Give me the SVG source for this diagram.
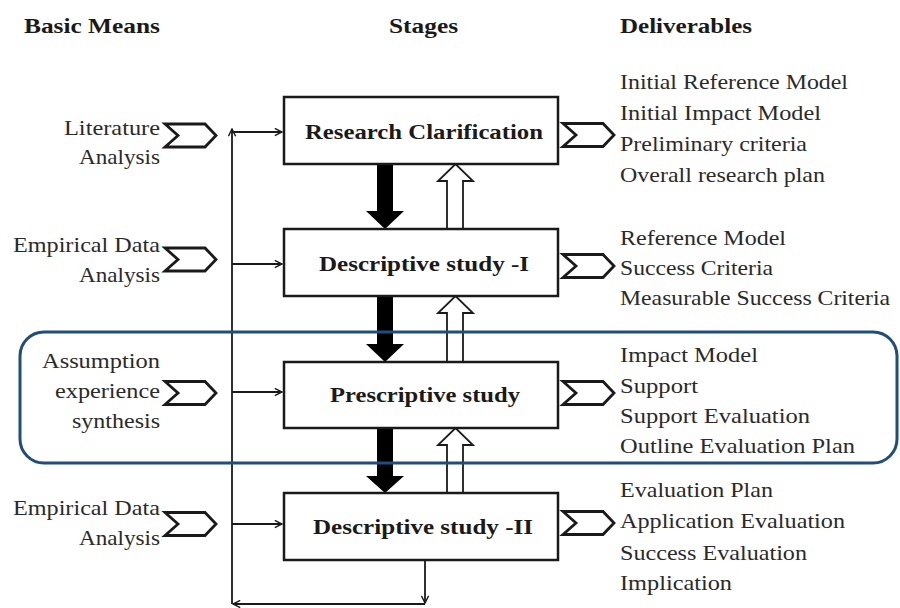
<svg xmlns="http://www.w3.org/2000/svg" width="900" height="608" viewBox="0 0 900 608">
<defs>
<style>
.hdr{font-family:"Liberation Serif","Times New Roman",serif;font-weight:bold;font-size:22px;fill:#1a1a1a}
.box{fill:#fff;stroke:#1a1a1a;stroke-width:2.5}
.bt{font-family:"Liberation Serif","Times New Roman",serif;font-weight:bold;font-size:22px;fill:#1a1a1a;text-anchor:middle}
.lt{font-family:"Liberation Serif","Times New Roman",serif;font-size:22px;fill:#2a2a2a;text-anchor:end}
.rt{font-family:"Liberation Serif","Times New Roman",serif;font-size:22px;fill:#2a2a2a}
.chev{fill:#fff;stroke:#1a1a1a;stroke-width:2.8;stroke-linejoin:miter}
.ln{fill:none;stroke:#1a1a1a;stroke-width:1.8}
.blk{fill:#000}
.wht{fill:#fff;stroke:#1a1a1a;stroke-width:1.8}
</style>
<marker id="oa" viewBox="0 0 10 10" refX="9" refY="5" markerWidth="9" markerHeight="9" orient="auto" markerUnits="userSpaceOnUse">
<path d="M1,1 L9,5 L1,9" fill="none" stroke="#1a1a1a" stroke-width="1.6"/>
</marker>
<path id="chv" d="M0,-11.5 L40,-11.5 L51,0 L40,11.5 L0,11.5 L13,0 Z"/>
</defs>

<g id="headers">
<text class="hdr" x="24" y="33" textLength="136" lengthAdjust="spacingAndGlyphs">Basic Means</text>
<text class="hdr" x="389" y="33" textLength="69" lengthAdjust="spacingAndGlyphs">Stages</text>
<text class="hdr" x="620" y="33" textLength="132" lengthAdjust="spacingAndGlyphs">Deliverables</text>
</g>

<g id="connectors">
<path class="ln" d="M425,560 L425,603" marker-end="url(#oa)"/>
<path class="ln" d="M425,604 L233,604" marker-end="url(#oa)"/>
<path class="ln" d="M232,604 L232,129" marker-end="url(#oa)"/>
<path class="ln" d="M232,132 L282,132" marker-end="url(#oa)"/>
<path class="ln" d="M232,264 L282,264" marker-end="url(#oa)"/>
<path class="ln" d="M232,392 L282,392" marker-end="url(#oa)"/>
<path class="ln" d="M232,524 L282,524" marker-end="url(#oa)"/>
<path class="blk" d="M377,164 L393,164 L393,211 L404,211 L385,229 L366,211 L377,211 Z"/>
<path class="blk" d="M377,296 L393,296 L393,344 L404,344 L385,362 L366,344 L377,344 Z"/>
<path class="blk" d="M377,428 L393,428 L393,476 L404,476 L385,493 L366,476 L377,476 Z"/>
<path class="wht" d="M447,229 L447,181 L438,181 L455.5,164 L473,181 L463,181 L463,229 Z"/>
<path class="wht" d="M447,362 L447,313 L438,313 L455.5,296 L473,313 L463,313 L463,362 Z"/>
<path class="wht" d="M447,493 L447,445 L438,445 L455.5,428 L473,445 L463,445 L463,493 Z"/>
</g>

<g id="stage-research-clarification">
<rect class="box" x="284" y="97" width="274" height="67"/>
<text class="bt" x="424" y="139" textLength="238" lengthAdjust="spacingAndGlyphs">Research Clarification</text>
</g>
<g id="stage-descriptive-1">
<rect class="box" x="284" y="229" width="274" height="67"/>
<text class="bt" x="424" y="271" textLength="210" lengthAdjust="spacingAndGlyphs">Descriptive study -I</text>
</g>
<g id="stage-prescriptive">
<rect class="box" x="284" y="362" width="274" height="66"/>
<text class="bt" x="425" y="402" textLength="190" lengthAdjust="spacingAndGlyphs">Prescriptive study</text>
</g>
<g id="stage-descriptive-2">
<rect class="box" x="284" y="493" width="274" height="67"/>
<text class="bt" x="423" y="534" textLength="220" lengthAdjust="spacingAndGlyphs">Descriptive study -II</text>
</g>

<g id="means-literature">
<text class="lt" x="160" y="135" textLength="96" lengthAdjust="spacingAndGlyphs">Literature</text>
<text class="lt" x="160" y="164" textLength="81" lengthAdjust="spacingAndGlyphs">Analysis</text>
<use href="#chv" class="chev" x="165" y="135.5"/>
</g>
<g id="means-empirical-1">
<text class="lt" x="160" y="252" textLength="147" lengthAdjust="spacingAndGlyphs">Empirical Data</text>
<text class="lt" x="160" y="282" textLength="81" lengthAdjust="spacingAndGlyphs">Analysis</text>
<use href="#chv" class="chev" x="165" y="259.5"/>
</g>
<g id="means-assumption">
<text class="lt" x="160" y="368" textLength="118" lengthAdjust="spacingAndGlyphs">Assumption</text>
<text class="lt" x="160" y="398" textLength="105" lengthAdjust="spacingAndGlyphs">experience</text>
<text class="lt" x="160" y="428" textLength="88" lengthAdjust="spacingAndGlyphs">synthesis</text>
<use href="#chv" class="chev" x="165" y="393"/>
</g>
<g id="means-empirical-2">
<text class="lt" x="160" y="515" textLength="147" lengthAdjust="spacingAndGlyphs">Empirical Data</text>
<text class="lt" x="160" y="545" textLength="81" lengthAdjust="spacingAndGlyphs">Analysis</text>
<use href="#chv" class="chev" x="165" y="524"/>
</g>

<g id="deliverables-1">
<use href="#chv" class="chev" x="563" y="135"/>
<text class="rt" x="620" y="89" textLength="228" lengthAdjust="spacingAndGlyphs">Initial Reference Model</text>
<text class="rt" x="620" y="120" textLength="201" lengthAdjust="spacingAndGlyphs">Initial Impact Model</text>
<text class="rt" x="620" y="151" textLength="187" lengthAdjust="spacingAndGlyphs">Preliminary criteria</text>
<text class="rt" x="620" y="182" textLength="205" lengthAdjust="spacingAndGlyphs">Overall research plan</text>
</g>
<g id="deliverables-2">
<use href="#chv" class="chev" x="563" y="266"/>
<text class="rt" x="620" y="245" textLength="166" lengthAdjust="spacingAndGlyphs">Reference Model</text>
<text class="rt" x="620" y="275" textLength="153" lengthAdjust="spacingAndGlyphs">Success Criteria</text>
<text class="rt" x="620" y="305" textLength="270" lengthAdjust="spacingAndGlyphs">Measurable Success Criteria</text>
</g>
<g id="deliverables-3">
<use href="#chv" class="chev" x="563" y="393"/>
<text class="rt" x="620" y="362" textLength="138" lengthAdjust="spacingAndGlyphs">Impact Model</text>
<text class="rt" x="620" y="393" textLength="78" lengthAdjust="spacingAndGlyphs">Support</text>
<text class="rt" x="620" y="423" textLength="190" lengthAdjust="spacingAndGlyphs">Support Evaluation</text>
<text class="rt" x="620" y="453" textLength="235" lengthAdjust="spacingAndGlyphs">Outline Evaluation Plan</text>
</g>
<g id="deliverables-4">
<use href="#chv" class="chev" x="563" y="523"/>
<text class="rt" x="620" y="497" textLength="153" lengthAdjust="spacingAndGlyphs">Evaluation Plan</text>
<text class="rt" x="620" y="528" textLength="225" lengthAdjust="spacingAndGlyphs">Application Evaluation</text>
<text class="rt" x="620" y="560" textLength="187" lengthAdjust="spacingAndGlyphs">Success Evaluation</text>
<text class="rt" x="620" y="590" textLength="112" lengthAdjust="spacingAndGlyphs">Implication</text>
</g>

<g id="highlight">
<rect x="20" y="332" width="877" height="131" rx="24" ry="24" fill="none" stroke="#1F4E7D" stroke-width="3"/>
</g>
</svg>
